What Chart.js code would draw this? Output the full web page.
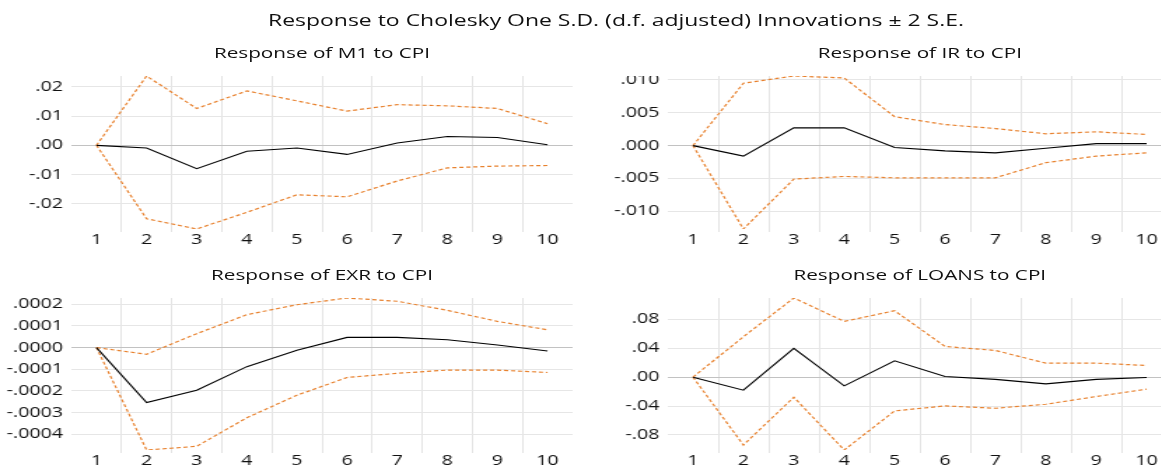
<!DOCTYPE html>
<html lang="en">
<head>
  <meta charset="UTF-8" />
  <title>Response to Cholesky One S.D. Innovations</title>
  <script src="https://cdn.jsdelivr.net/npm/chart.js@4.4.3/dist/chart.umd.js"></script>
  <style>
    html,body{margin:0;padding:0;background:#fff;overflow:hidden}
    body{width:1161px;height:466px;position:relative}
    /* the reference is stretched sideways, so the whole stage is too */
    #stage{position:absolute;left:0;top:0;width:845px;height:466px;
           transform:scaleX(1.4);transform-origin:0 0;
           font-family:"Open Sans",sans-serif;color:#111}
    .ttl{position:absolute;text-align:center;font-size:14.8px;line-height:18px;white-space:nowrap}
    .main{font-size:16.4px}
    canvas{position:absolute;display:block}
  </style>
</head>
<body>
<div id="stage">
  <div class="ttl main" style="left:0;width:880px;top:11px">Response to Cholesky One S.D. (d.f. adjusted) Innovations ± 2 S.E.</div>
</div>

<script>
  /* ==== DATA ==== */
  const periods = ['1','2','3','4','5','6','7','8','9','10'];

  const m1Resp  = [0, -0.0009, -0.0080, -0.0020, -0.0009, -0.0031, 0.0008, 0.0030, 0.0027, 0.0002];
  const m1Upper = [0, 0.0237, 0.0126, 0.0186, 0.0152, 0.0117, 0.0139, 0.0135, 0.0126, 0.0074];
  const m1Lower = [0, -0.0251, -0.0286, -0.0229, -0.0169, -0.0176, -0.0122, -0.0077, -0.0071, -0.0069];

  const irResp  = [0, -0.0016, 0.0027, 0.0027, -0.0003, -0.0008, -0.0011, -0.0004, 0.0003, 0.0003];
  const irUpper = [0, 0.0095, 0.0106, 0.0103, 0.0044, 0.0032, 0.0026, 0.0018, 0.0021, 0.0017];
  const irLower = [0, -0.0127, -0.0051, -0.0047, -0.0049, -0.0049, -0.0049, -0.0026, -0.0016, -0.0011];

  const exrResp  = [0, -0.000254, -0.000197, -0.000088, -0.000012, 0.000047, 0.000047, 0.000036, 0.000012, -0.000016];
  const exrUpper = [0, -0.000031, 0.000064, 0.000152, 0.000198, 0.000229, 0.000214, 0.000172, 0.000121, 0.000082];
  const exrLower = [0, -0.000473, -0.000456, -0.000324, -0.000220, -0.000138, -0.000119, -0.000104, -0.000104, -0.000115];

  const loansResp  = [0, -0.018, 0.040, -0.012, 0.0227, 0.001, -0.003, -0.0092, -0.003, -0.0005];
  const loansUpper = [0, 0.056, 0.1096, 0.0772, 0.092, 0.0425, 0.037, 0.0194, 0.0194, 0.0162];
  const loansLower = [0, -0.0939, -0.0277, -0.1008, -0.0467, -0.0398, -0.043, -0.0375, -0.0268, -0.0166];

  /* ==== LAYOUT (stage units, x is later stretched by 1.4) ==== */
  const YW = 48, XH = 24;        // y-axis width, x-axis height
  const panels = [
    {title:'Response of M1 to CPI',    resp:m1Resp,    up:m1Upper,    lo:m1Lower,    step:0.01,   dec:2, l:51,  r:409, t:76,  b:229},
    {title:'Response of IR to CPI',    resp:irResp,    up:irUpper,    lo:irLower,    step:0.005,  dec:3, l:477, r:837, t:76,  b:229},
    {title:'Response of EXR to CPI',   resp:exrResp,   up:exrUpper,   lo:exrLower,   step:0.0001, dec:4, l:51,  r:409, t:298, b:450},
    {title:'Response of LOANS to CPI', resp:loansResp, up:loansUpper, lo:loansLower, step:0.04,   dec:2, l:477, r:837, t:298, b:450}
  ];

  const ORANGE = '#e8822f';
  const tickFont = {family:'"Open Sans", sans-serif', size:14};
  const stage = document.getElementById('stage');

  function fmt(v, dec){
    if (Math.abs(v) < 1e-12) v = 0;
    return v.toFixed(dec).replace('0.', '.');
  }

  panels.forEach(p => {
    const ttl = document.createElement('div');
    ttl.className = 'ttl';
    ttl.textContent = p.title;
    ttl.style.left = p.l + 'px';
    ttl.style.width = (p.r - p.l) + 'px';
    ttl.style.top = (p.t - 33) + 'px';
    stage.appendChild(ttl);

    const cv = document.createElement('canvas');
    const w = p.r - p.l + YW, h = p.b - p.t + XH;
    cv.width = w; cv.height = h;
    cv.style.left = (p.l - YW) + 'px';
    cv.style.top = p.t + 'px';
    cv.style.width = w + 'px'; cv.style.height = h + 'px';
    stage.appendChild(cv);

    const all = p.resp.concat(p.up, p.lo);
    const line = (data, color, dash, width) => ({
      data, borderColor:color, borderWidth:width, borderDash:dash,
      pointRadius:0, tension:0, fill:false
    });

    new Chart(cv, {
      type:'line',
      data:{
        labels:periods,
        datasets:[
          line(p.resp, '#000', [], 1.1),
          line(p.up, ORANGE, [3,2], 1.2),
          line(p.lo, ORANGE, [3,2], 1.2)
        ]
      },
      options:{
        responsive:false, animation:false,
        layout:{padding:0},
        plugins:{legend:{display:false}, tooltip:{enabled:false}},
        scales:{
          x:{
            type:'category', offset:true,
            // only the lines between periods, none on the outer edges
            grid:{offset:true, tickLength:3,
                  color:c => (c.type !== 'tick' || c.index === 0) ? 'rgba(0,0,0,0)' : '#e4e4e4'},
            border:{display:false},
            ticks:{color:'#111', font:tickFont, padding:0, maxRotation:0, autoSkip:false},
            afterFit:s => { s.height = XH; s.paddingLeft = 0; s.paddingRight = 0; }
          },
          y:{
            min:Math.min(...all), max:Math.max(...all),
            grid:{drawTicks:false,
                  color:c => (c.tick && Math.abs(c.tick.value) < 1e-12) ? '#c2c2c2' : '#e6e6e6'},
            border:{display:false},
            ticks:{stepSize:p.step, includeBounds:false, color:'#111', font:tickFont, padding:6,
                   callback:v => fmt(v, p.dec)},
            afterFit:s => { s.width = YW; s.paddingTop = 0; s.paddingBottom = 0; }
          }
        }
      }
    });
  });
</script>
</body>
</html>
